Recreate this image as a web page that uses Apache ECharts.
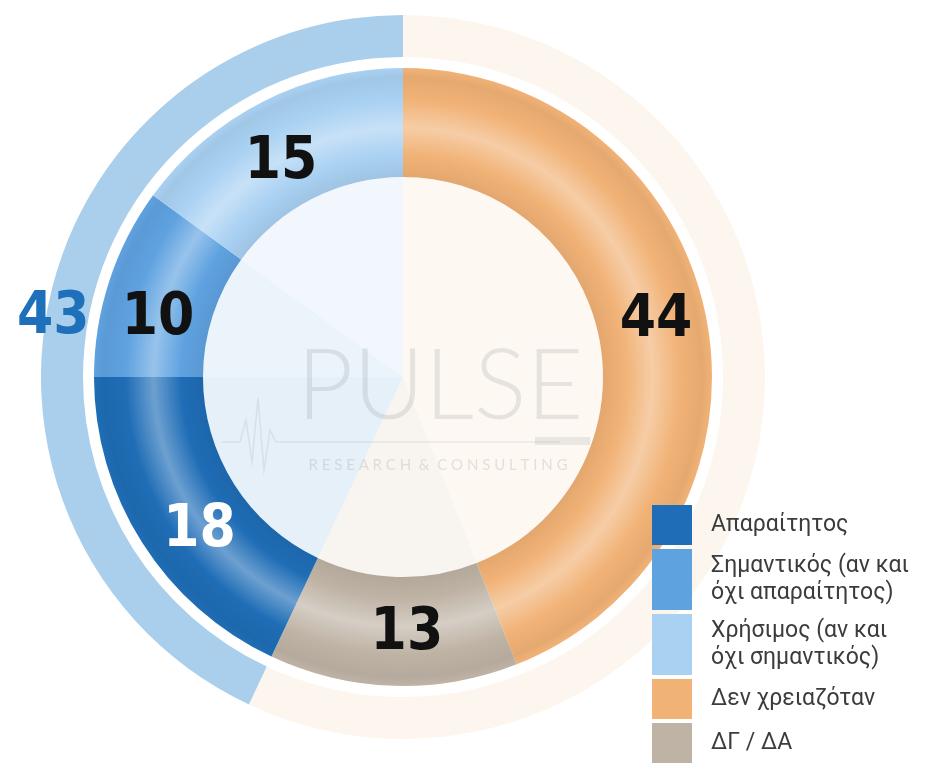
<!DOCTYPE html>
<html>
<head>
<meta charset="utf-8">
<script src="https://cdn.jsdelivr.net/npm/echarts@6/dist/echarts.min.js"></script>
<style>
  html, body { margin: 0; padding: 0; background: #fff; }
  #chart { width: 928px; height: 766px; }
</style>
</head>
<body>
<div id="chart"></div>
<script>
// legend order
var categories = ['Απαραίτητος', 'Σημαντικός (αν και\nόχι απαραίτητος)', 'Χρήσιμος (αν και\nόχι σημαντικός)', 'Δεν χρειαζόταν', 'ΔΓ / ΔΑ'];
var values = [18, 10, 15, 44, 13];
var colors = ['#1f6db6', '#5fa2e0', '#a9d1f2', '#f1b276', '#bfb3a5'];
var paleColors = ['#e6f0f9', '#ebf3fb', '#f2f7fd', '#fdf8f2', '#f8f4ef'];
// clockwise from 12 o'clock
var ringOrder = [3, 4, 0, 1, 2];
var labelColors = ['#fff', '#111', '#111', '#111', '#111'];
// small nudges so the numbers sit where the original put them
var labelNudge = [[14, 16], [0, 22], [-5, 15], [0, -8], [12, 0]];

var outerNames = ['Δεν χρειαζόταν + ΔΓ / ΔΑ', 'Απαραίτητος + Σημαντικός + Χρήσιμος'];
var outerValues = [57, 43];
var outerColors = ['#fdf6ee', '#a9cfec'];

var cx = 403, cy = 377, rIn = 200, rOut = 309;
var numFont = "'Liberation Sans Narrow', 'DejaVu Sans Condensed', Roboto, sans-serif";

function mix(hex, to, t) {
  var a = parseInt(hex.slice(1), 16), b = parseInt(to.slice(1), 16);
  var r = Math.round(((a >> 16) & 255) * (1 - t) + ((b >> 16) & 255) * t);
  var g = Math.round(((a >> 8) & 255) * (1 - t) + ((b >> 8) & 255) * t);
  var bl = Math.round((a & 255) * (1 - t) + (b & 255) * t);
  return 'rgb(' + r + ',' + g + ',' + bl + ')';
}
function ringColor(c) {
  var f = rIn / rOut;
  return {
    type: 'radial', x: cx, y: cy, r: rOut, global: true,
    colorStops: [
      { offset: 0, color: c },
      { offset: f, color: mix(c, '#000000', 0.06) },
      { offset: f + 0.07, color: c },
      { offset: f + 0.16, color: mix(c, '#ffffff', 0.35) },
      { offset: f + 0.25, color: c },
      { offset: 0.97, color: mix(c, '#000000', 0.05) },
      { offset: 1, color: c }
    ]
  };
}

var ringData = ringOrder.map(function (i) {
  return {
    name: categories[i], value: values[i],
    itemStyle: { color: ringColor(colors[i]) },
    label: { color: labelColors[i], offset: labelNudge[i] }
  };
});
var paleData = ringOrder.map(function (i) {
  return { name: categories[i], value: values[i], itemStyle: { color: paleColors[i] } };
});
var outerData = outerNames.map(function (n, i) {
  return {
    name: n, value: outerValues[i],
    itemStyle: { color: outerColors[i] },
    label: { show: i === 1 }
  };
});

// legend as graphic blocks
var legendItems = [];
var ly = 505;
categories.forEach(function (name, i) {
  var lines = name.split('\n').length;
  var h = lines > 1 ? 61 : 40;
  legendItems.push({
    type: 'rect', z: 100, shape: { x: 652, y: ly, width: 40, height: h },
    style: { fill: colors[i] }, silent: true
  });
  legendItems.push({
    type: 'text', z: 100, x: 711, y: ly + h / 2,
    style: {
      text: name, fill: '#3c3c3c', font: '23px Roboto, sans-serif',
      lineHeight: 27, verticalAlign: 'middle', align: 'left'
    },
    silent: true
  });
  ly += h + 4;
});

var watermark = [
  {
    type: 'text', z: 50, x: 440, y: 387,
    style: {
      text: 'PULSE', fill: 'rgba(150,150,150,0.22)', font: '300 98px Lato, sans-serif',
      align: 'center', verticalAlign: 'middle'
    }, silent: true
  },
  {
    type: 'text', z: 50, x: 438, y: 465,
    style: {
      text: 'R E S E A R C H  &  C O N S U L T I N G', fill: 'rgba(150,150,150,0.26)',
      font: '15px Lato, sans-serif', align: 'center', verticalAlign: 'middle'
    }, silent: true
  },
  {
    type: 'polyline', z: 50,
    shape: { points: [[222, 442], [240, 442], [246, 420], [252, 462], [258, 398], [264, 470], [270, 430], [276, 442], [560, 442]] },
    style: { stroke: 'rgba(160,160,160,0.2)', lineWidth: 1.5, fill: null }, silent: true
  },
  {
    type: 'rect', z: 50, shape: { x: 535, y: 437, width: 55, height: 8 },
    style: { fill: 'rgba(150,150,150,0.18)' }, silent: true
  }
];

var chart = echarts.init(document.getElementById('chart'));
chart.setOption({
  animation: false,
  backgroundColor: '#fff',
  series: [
    {
      type: 'pie', center: [cx, cy], radius: [0, rIn], startAngle: 90, clockwise: true,
      silent: true, label: { show: false }, labelLine: { show: false },
      data: paleData, z: 1
    },
    {
      type: 'pie', center: [cx, cy], radius: [320, 362], startAngle: 90, clockwise: true,
      silent: true, labelLine: { show: false },
      label: {
        position: 'inside', formatter: '{c}', color: '#1f70bb',
        fontSize: 58, fontWeight: 'bold', fontFamily: numFont, offset: [-14, 16]
      },
      data: outerData, z: 2
    },
    {
      type: 'pie', center: [cx, cy], radius: [rIn, rOut], startAngle: 90, clockwise: true,
      silent: true, labelLine: { show: false },
      label: {
        position: 'inside', formatter: '{c}', fontSize: 58, fontWeight: 'bold',
        fontFamily: numFont
      },
      data: ringData, z: 3
    }
  ],
  graphic: watermark.concat(legendItems)
});
</script>
</body>
</html>
